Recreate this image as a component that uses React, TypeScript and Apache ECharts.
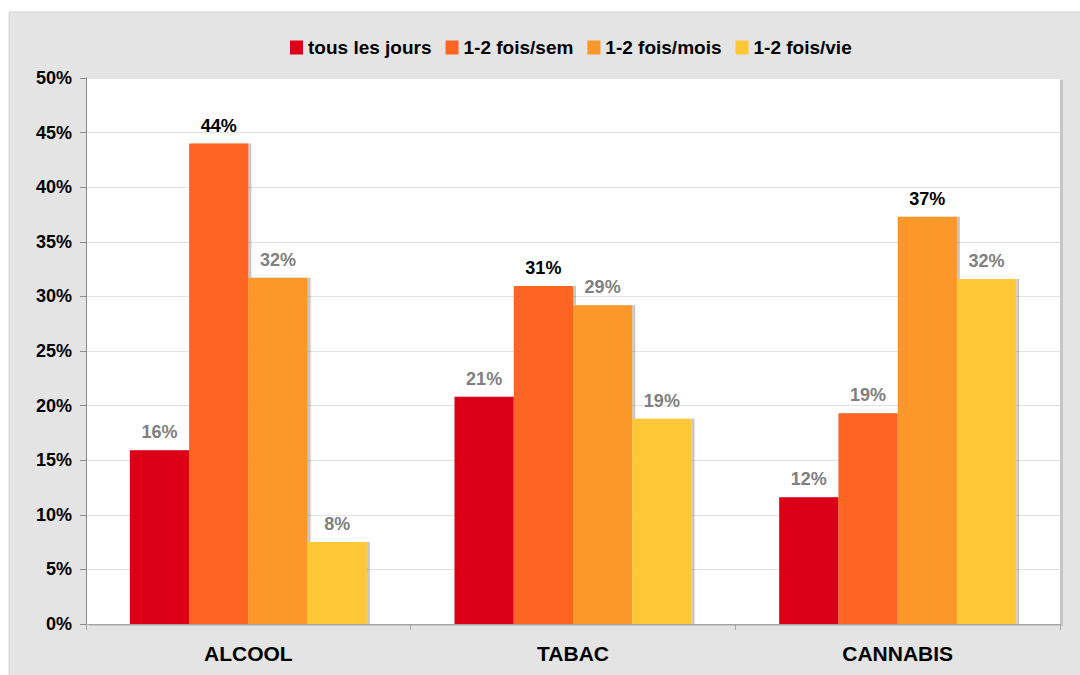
import React, { useEffect, useRef } from "react";
import * as echarts from "echarts";

const categories = ["ALCOOL", "TABAC", "CANNABIS"];
const seriesNames = ["tous les jours", "1-2 fois/sem", "1-2 fois/mois", "1-2 fois/vie"];
const tousLesJours = [15.9, 20.8, 11.6];
const foisSem = [44.0, 30.95, 19.3];
const foisMois = [31.7, 29.2, 37.3];
const foisVie = [7.5, 18.8, 31.6];
const seriesColors = ["#dc0019", "#fe6524", "#fc972c", "#fec736"];
const yTicks = { min: 0, max: 50, interval: 5 };

const FONT = "'Liberation Sans', Arial, Helvetica, sans-serif";

export default function App() {
  const ref = useRef<HTMLDivElement>(null);
  useEffect(() => {
    if (!ref.current) return;
    const chart = echarts.init(ref.current, undefined, { renderer: "svg" });
    const all = [tousLesJours, foisSem, foisMois, foisVie];
    const maxPerCat = categories.map((_, i) => Math.max(...all.map((s) => s[i])));
    const series = all.map((vals, si) => ({
      name: seriesNames[si],
      type: "bar",
      barGap: "0%",
      barCategoryGap: "27%",
      itemStyle: {
        color: seriesColors[si],
        shadowColor: "rgba(0,0,0,0.22)",
        shadowOffsetX: 3,
        shadowOffsetY: 0,
        shadowBlur: 0,
      },
      label: {
        show: true,
        position: "top",
        distance: 9,
        fontFamily: FONT,
        fontWeight: "bold",
        fontSize: 18,
        formatter: (p: any) => Math.round(p.value) + "%",
      },
      data: vals.map((v, ci) => ({
        value: v,
        label: { color: v === maxPerCat[ci] ? "#000000" : "#808080" },
      })),
    }));
    chart.setOption({
      animation: false,
      backgroundColor: "#ffffff",
      graphic: [
        {
          type: "rect",
          z: -20,
          shape: { x: 9, y: 12, width: 1080, height: 675 },
          style: { fill: "#e4e4e4", stroke: "#d2d2d2", lineWidth: 1 },
        },
        {
          type: "rect",
          z: -10,
          shape: { x: 89, y: 80, width: 974, height: 546 },
          style: { fill: "#c6c6c6" },
        },
      ],
      legend: {
        top: 33,
        left: 285,
        icon: "rect",
        itemWidth: 13,
        itemHeight: 14,
        itemGap: 14,
        textStyle: { fontFamily: FONT, fontWeight: "bold", fontSize: 19, color: "#000" },
        data: seriesNames,
      },
      grid: {
        left: 86,
        top: 78,
        right: 20,
        bottom: 51,
        show: true,
        backgroundColor: "#ffffff",
        borderWidth: 0,
      },
      xAxis: {
        type: "category",
        data: categories,
        axisLine: { lineStyle: { color: "#a6a6a6", width: 1 } },
        axisTick: { show: true, length: 6, lineStyle: { color: "#a6a6a6" } },
        axisLabel: {
          margin: 19,
          fontFamily: FONT,
          fontWeight: "bold",
          fontSize: 21,
          color: "#000",
        },
      },
      yAxis: {
        type: "value",
        min: yTicks.min,
        max: yTicks.max,
        interval: yTicks.interval,
        axisLine: { show: true, lineStyle: { color: "#8c8c8c", width: 1 } },
        axisTick: { show: true, length: 6, lineStyle: { color: "#8c8c8c" } },
        splitLine: { show: true, lineStyle: { color: "#e3e3e3", width: 1 } },
        axisLabel: {
          margin: 14,
          fontFamily: FONT,
          fontWeight: "bold",
          fontSize: 18,
          color: "#000",
          formatter: "{value}%",
        },
      },
      series,
    });
    return () => chart.dispose();
  }, []);
  return (
    <div
      ref={ref}
      style={{ position: "absolute", left: 0, top: 0, width: 1080, height: 675 }}
    />
  );
}
